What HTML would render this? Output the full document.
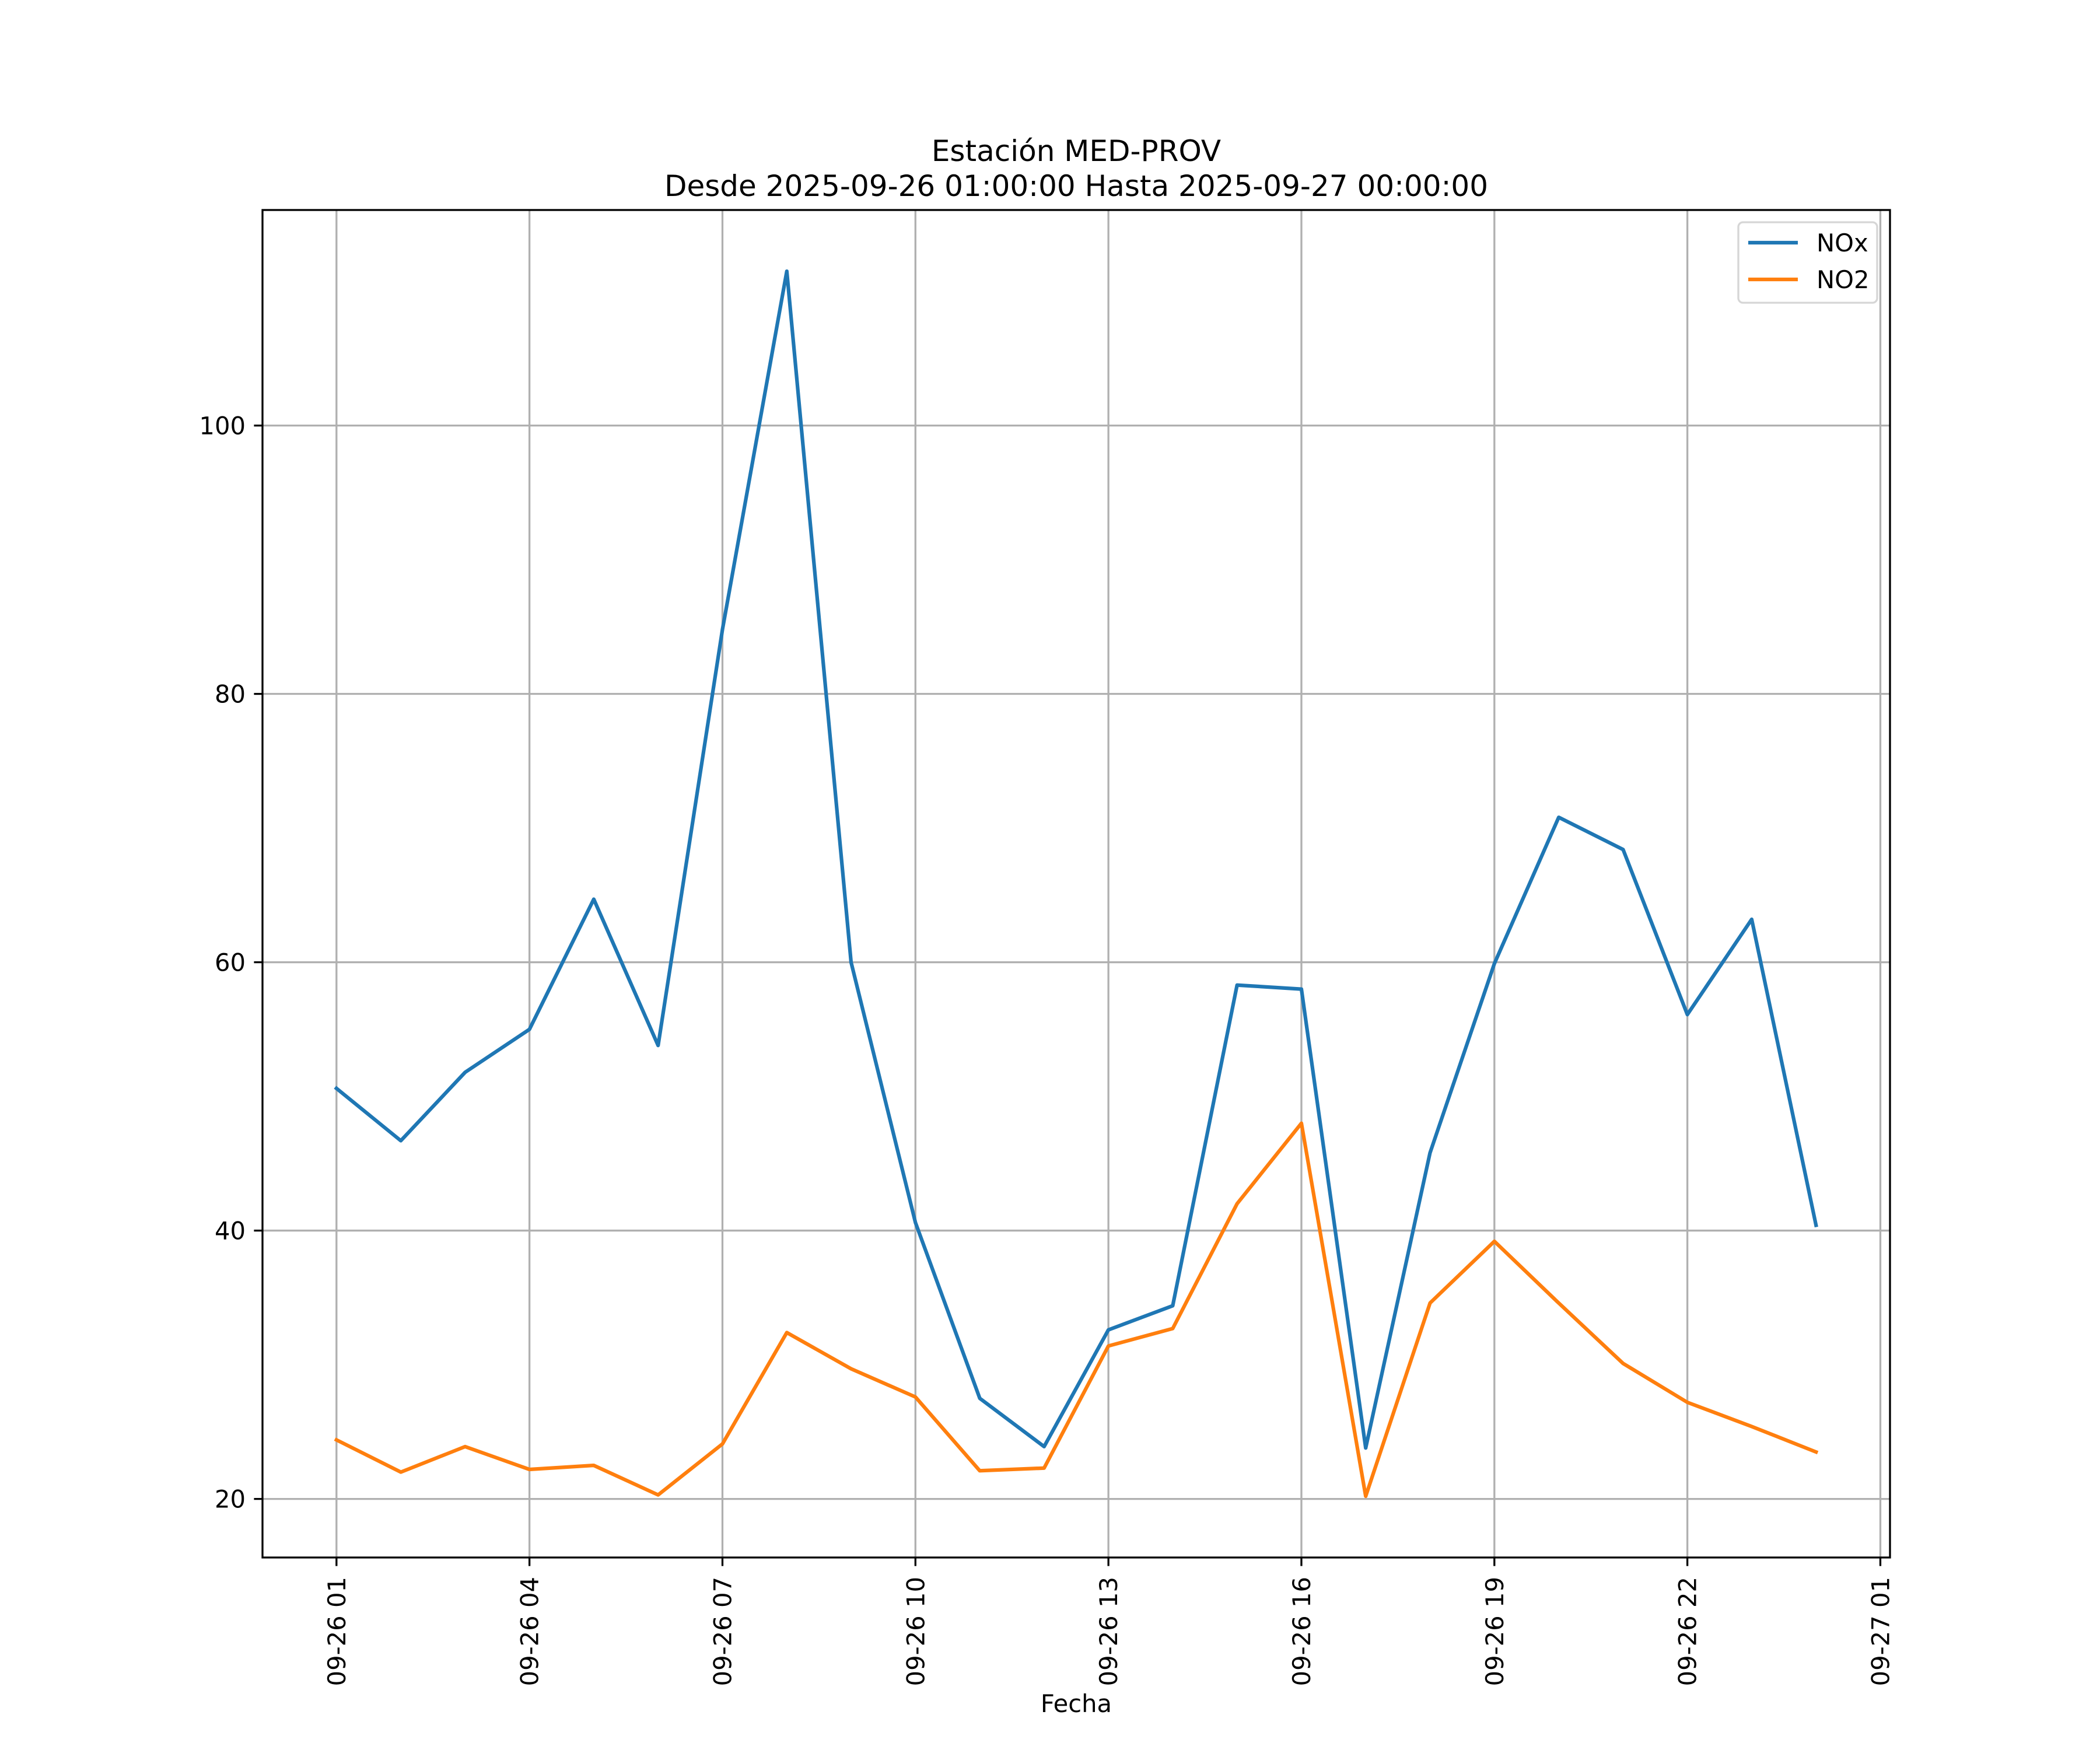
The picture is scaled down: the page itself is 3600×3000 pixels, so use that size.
<!DOCTYPE html>
<html><head><meta charset="utf-8"><style>
html,body{margin:0;padding:0;background:#fff;}
svg{display:block;font-family:"DejaVu Sans","Liberation Sans",sans-serif;}
</style></head><body>
<svg id="chart" width="3600" height="3000" viewBox="0 0 3600 3000" xmlns="http://www.w3.org/2000/svg">
<rect width="3600" height="3000" fill="#fff"/>
<text x="1845" y="276" font-size="50" text-anchor="middle">Estación MED-PROV</text>
<text x="1845" y="336" font-size="50" text-anchor="middle">Desde 2025-09-26 01:00:00 Hasta 2025-09-27 00:00:00</text>
<g id="grid"></g>
<g id="series"></g>
<rect x="450" y="360" width="2790" height="2310" fill="none" stroke="#000" stroke-width="3.3"/>
<g id="ticks"></g>
<text x="1845" y="2935" font-size="41.7" text-anchor="middle">Fecha</text>
<g>
<rect x="2980" y="381" width="238" height="138" rx="8" fill="#fff" fill-opacity="0.8" stroke="#d6d6d6" stroke-width="3.3"/>
<line x1="2997" y1="416" x2="3082" y2="416" stroke="#1f77b4" stroke-width="6.25"/>
<text x="3114" y="431" font-size="41.7">NOx</text>
<line x1="2997" y1="479" x2="3082" y2="479" stroke="#ff7f0e" stroke-width="6.25"/>
<text x="3114" y="494" font-size="41.7">NO2</text>
</g>
</svg>
<script>
const hours = [1,2,3,4,5,6,7,8,9,10,11,12,13,14,15,16,17,18,19,20,21,22,23,24];
const noxValues = [50.6,46.7,51.8,55.0,64.7,53.8,84.8,111.5,60.0,40.6,27.5,23.9,32.6,34.4,58.3,58.0,23.8,45.8,59.9,70.8,68.4,56.1,63.2,40.4];
const no2Values = [24.4,22.0,23.9,22.2,22.5,20.3,24.1,32.4,29.7,27.6,22.1,22.3,31.4,32.7,42.0,48.0,20.2,34.6,39.2,34.6,30.1,27.2,25.4,23.5];
const xTickHours = [1,4,7,10,13,16,19,22,25];
const xTickLabels = ["09-26 01","09-26 04","09-26 07","09-26 10","09-26 13","09-26 16","09-26 19","09-26 22","09-27 01"];
const yTicks = [20,40,60,80,100];

const NS="http://www.w3.org/2000/svg";
const L=450,R=3240,T=360,B=2670;
const allV=noxValues.concat(no2Values);
const vmin=Math.min(...allV), vmax=Math.max(...allV);
const hmin=Math.min(...hours), hmax=Math.max(...hours);
const x0=hmin-(hmax-hmin)*0.05, x1=hmax+(hmax-hmin)*0.05;
const y0=vmin-(vmax-vmin)*0.05, y1=vmax+(vmax-vmin)*0.05;
const xs=h=>L+(h-x0)/(x1-x0)*(R-L);
const ys=v=>B-(v-y0)/(y1-y0)*(B-T);
function mk(tag,attrs,parent){const e=document.createElementNS(NS,tag);for(const k in attrs)e.setAttribute(k,attrs[k]);parent.appendChild(e);return e;}
const grid=document.getElementById('grid'),ticks=document.getElementById('ticks'),series=document.getElementById('series');
xTickHours.forEach((h,i)=>{
  const x=xs(h);
  const g=mk('line',{x1:x,y1:T,x2:x,y2:B,stroke:'#b0b0b0','stroke-width':3.3},grid);
  
  
  const t=mk('line',{x1:x,y1:B,x2:x,y2:B+14.6,stroke:'#000','stroke-width':3.3},ticks);
  
  
  const lb=mk('text',{x:0,y:0,'font-size':41.7,'text-anchor':'end',transform:`translate(${x+15},${B+33}) rotate(-90)`},ticks);
  lb.textContent=xTickLabels[i];
  
  
});
yTicks.forEach(v=>{
  const y=ys(v);
  const g=mk('line',{x1:L,y1:y,x2:R,y2:y,stroke:'#b0b0b0','stroke-width':3.3},grid);
  
  
  const t=mk('line',{x1:L-14.6,y1:y,x2:L,y2:y,stroke:'#000','stroke-width':3.3},ticks);
  
  
  const lb=mk('text',{x:L-29,y:y+15,'font-size':41.7,'text-anchor':'end'},ticks);
  lb.textContent=v;
  
  
});
function drawLine(vals,color,name){
  const pts=vals.map((v,i)=>xs(hours[i]).toFixed(1)+','+ys(v).toFixed(1)).join(' ');
  const p=mk('polyline',{points:pts,fill:'none',stroke:color,'stroke-width':6.25,'stroke-linejoin':'round','stroke-linecap':'square'},series);
  
  
}
drawLine(noxValues,'#1f77b4','nox-line');
drawLine(no2Values,'#ff7f0e','no2-line');
</script>
</body></html>
